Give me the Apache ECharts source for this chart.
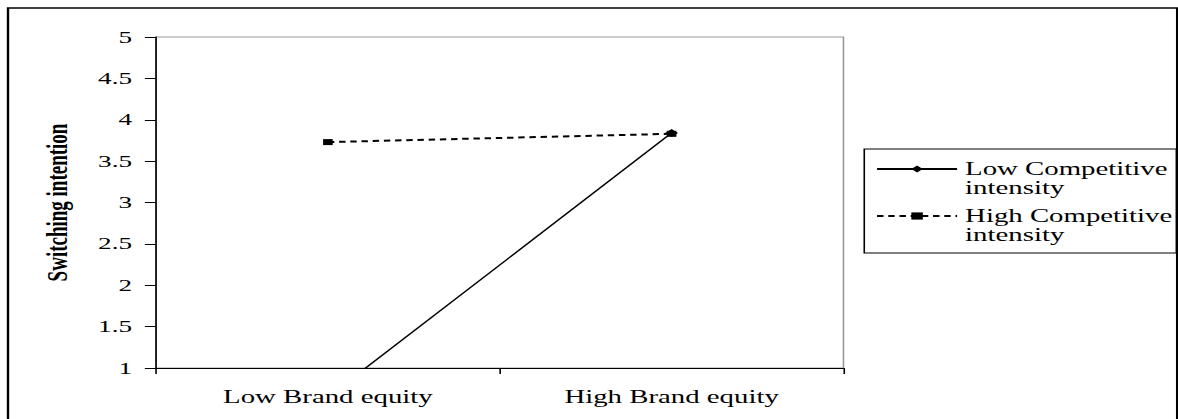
<!DOCTYPE html>
<html>
<head>
<meta charset="utf-8">
<script src="https://cdn.jsdelivr.net/npm/echarts@6/dist/echarts.min.js"></script>
<style>
html,body{margin:0;padding:0;background:#fff;overflow:hidden;width:1178px;height:419px;}
#wrap{position:absolute;left:0;top:0;width:736px;height:419px;transform:scaleX(1.6005);transform-origin:0 0;}
#c{width:736px;height:419px;}
</style>
</head>
<body>
<div id="wrap"><div id="c"></div></div>
<script>
var categories = ['Low Brand equity', 'High Brand equity'];
var lowCompetitive = [0.65, 3.84];
var highCompetitive = [3.73, 3.83];
var seriesNames = ['Low Competitive intensity', 'High Competitive intensity'];
var yAxisTitle = 'Switching intention';

var FONT = '"Liberation Serif", "Times New Roman", serif';
var chart = echarts.init(document.getElementById('c'), null, {renderer: 'svg'});
chart.setOption({
  animation: false,
  backgroundColor: '#fff',
  textStyle: {fontFamily: FONT, color: '#000'},
  graphic: [
    {type: 'rect', z: 0, silent: true, shape: {x: 5, y: 8, width: 730.5, height: 500},
     style: {fill: 'none', stroke: '#000', lineWidth: 1.5}},
    {type: 'rect', z: 0, silent: true, shape: {x: 540, y: 149, width: 195, height: 104},
     style: {fill: 'none', stroke: '#000', lineWidth: 1}}
  ],
  grid: {left: 97.5, right: 209, top: 37, bottom: 51, show: true, borderColor: '#999', borderWidth: 1, containLabel: false},
  legend: {
    orient: 'vertical', left: 547, top: 140.5, padding: 0, itemGap: -10,
    itemWidth: 50, itemHeight: 9, selectedMode: false,
    formatter: function (n) { return '\n' + n.replace(' intensity', '\nintensity'); },
    textStyle: {fontFamily: FONT, fontSize: 18, lineHeight: 19, color: '#000'},
    data: seriesNames
  },
  xAxis: {
    type: 'category', data: categories, boundaryGap: true,
    axisLine: {lineStyle: {color: '#000', width: 1}},
    axisTick: {show: true, length: 6, lineStyle: {color: '#000'}},
    axisLabel: {fontFamily: FONT, fontSize: 18, color: '#000', margin: 20},
    splitLine: {show: false}
  },
  yAxis: {
    type: 'value', min: 1, max: 5, interval: 0.5,
    axisLine: {show: true, lineStyle: {color: '#000', width: 1}},
    axisTick: {show: true, length: 7, lineStyle: {color: '#000'}},
    axisLabel: {fontFamily: FONT, fontSize: 17, color: '#000', margin: 15},
    splitLine: {show: false},
    name: yAxisTitle, nameLocation: 'middle', nameGap: 53,
    nameTextStyle: {fontFamily: FONT, fontSize: 19, fontWeight: 'bold', color: '#000'}
  },
  series: [
    {name: seriesNames[0], type: 'line', data: lowCompetitive, symbol: 'diamond', symbolSize: 8,
     clip: true, lineStyle: {color: '#000', width: 1.2}, itemStyle: {color: '#000'}},
    {name: seriesNames[1], type: 'line', data: highCompetitive, symbol: 'rect', symbolSize: 6,
     clip: true, lineStyle: {color: '#000', width: 2, type: [4, 3]}, itemStyle: {color: '#000'}}
  ]
});
</script>
</body>
</html>
